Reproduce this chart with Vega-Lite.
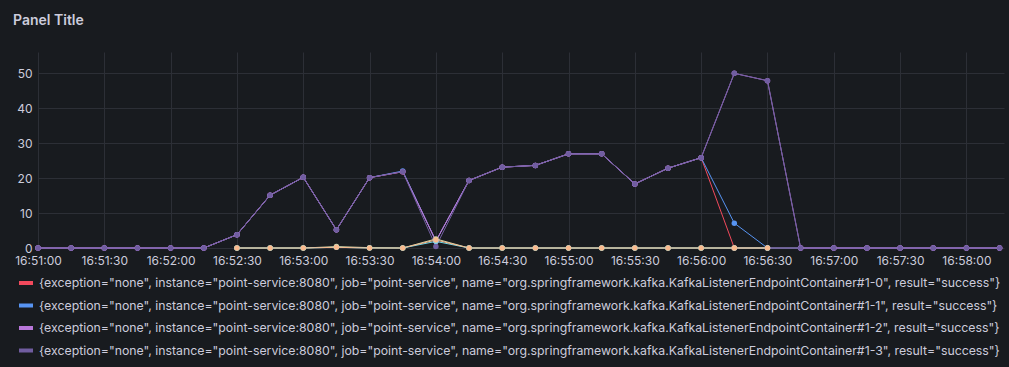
{
  "$schema": "https://vega.github.io/schema/vega-lite/v6.json",
  "width": 966,
  "height": 196,
  "autosize": {"type": "none"},
  "padding": {"left": 38, "top": 52, "right": 5, "bottom": 119},
  "background": "#181B1F",
  "title": {"text": "Panel Title", "anchor": "start", "frame": "group", "dx": -25, "dy": -20, "fontSize": 14, "fontWeight": 600, "color": "#CCCCDC", "font": "Inter"},
  "data": {
    "format": {"parse": {"t": "date:'%H:%M:%S'"}},
    "values": [
      {"s":"#1-0","t":"16:51:00","v":0},{"s":"#1-0","t":"16:51:15","v":0},{"s":"#1-0","t":"16:51:30","v":0},{"s":"#1-0","t":"16:51:45","v":0},{"s":"#1-0","t":"16:52:00","v":0},{"s":"#1-0","t":"16:52:15","v":0},{"s":"#1-0","t":"16:52:30","v":3.8},{"s":"#1-0","t":"16:52:45","v":15.1},{"s":"#1-0","t":"16:53:00","v":20.2},{"s":"#1-0","t":"16:53:15","v":5.2},{"s":"#1-0","t":"16:53:30","v":20.1},{"s":"#1-0","t":"16:53:45","v":21.8},{"s":"#1-0","t":"16:54:00","v":2.0},{"s":"#1-0","t":"16:54:15","v":19.3},{"s":"#1-0","t":"16:54:30","v":23.1},{"s":"#1-0","t":"16:54:45","v":23.6},{"s":"#1-0","t":"16:55:00","v":26.9},{"s":"#1-0","t":"16:55:15","v":26.9},{"s":"#1-0","t":"16:55:30","v":18.3},{"s":"#1-0","t":"16:55:45","v":22.8},{"s":"#1-0","t":"16:56:00","v":25.8},{"s":"#1-0","t":"16:56:15","v":0},{"s":"#1-0","t":"16:56:30","v":0},{"s":"#1-0","t":"16:56:45","v":0},{"s":"#1-0","t":"16:57:00","v":0},{"s":"#1-0","t":"16:57:15","v":0},{"s":"#1-0","t":"16:57:30","v":0},{"s":"#1-0","t":"16:57:45","v":0},{"s":"#1-0","t":"16:58:00","v":0},{"s":"#1-0","t":"16:58:15","v":0},
      {"s":"#1-1","t":"16:51:00","v":0},{"s":"#1-1","t":"16:51:15","v":0},{"s":"#1-1","t":"16:51:30","v":0},{"s":"#1-1","t":"16:51:45","v":0},{"s":"#1-1","t":"16:52:00","v":0},{"s":"#1-1","t":"16:52:15","v":0},{"s":"#1-1","t":"16:52:30","v":3.8},{"s":"#1-1","t":"16:52:45","v":15.1},{"s":"#1-1","t":"16:53:00","v":20.2},{"s":"#1-1","t":"16:53:15","v":5.2},{"s":"#1-1","t":"16:53:30","v":20.1},{"s":"#1-1","t":"16:53:45","v":22.0},{"s":"#1-1","t":"16:54:00","v":2.0},{"s":"#1-1","t":"16:54:15","v":19.3},{"s":"#1-1","t":"16:54:30","v":23.1},{"s":"#1-1","t":"16:54:45","v":23.6},{"s":"#1-1","t":"16:55:00","v":26.9},{"s":"#1-1","t":"16:55:15","v":26.9},{"s":"#1-1","t":"16:55:30","v":18.3},{"s":"#1-1","t":"16:55:45","v":22.8},{"s":"#1-1","t":"16:56:00","v":25.8},{"s":"#1-1","t":"16:56:15","v":7.1},{"s":"#1-1","t":"16:56:30","v":0},{"s":"#1-1","t":"16:56:45","v":0},{"s":"#1-1","t":"16:57:00","v":0},{"s":"#1-1","t":"16:57:15","v":0},{"s":"#1-1","t":"16:57:30","v":0},{"s":"#1-1","t":"16:57:45","v":0},{"s":"#1-1","t":"16:58:00","v":0},{"s":"#1-1","t":"16:58:15","v":0},
      {"s":"#1-2","t":"16:51:00","v":0},{"s":"#1-2","t":"16:51:15","v":0},{"s":"#1-2","t":"16:51:30","v":0},{"s":"#1-2","t":"16:51:45","v":0},{"s":"#1-2","t":"16:52:00","v":0},{"s":"#1-2","t":"16:52:15","v":0},{"s":"#1-2","t":"16:52:30","v":3.8},{"s":"#1-2","t":"16:52:45","v":15.1},{"s":"#1-2","t":"16:53:00","v":20.2},{"s":"#1-2","t":"16:53:15","v":5.2},{"s":"#1-2","t":"16:53:30","v":20.1},{"s":"#1-2","t":"16:53:45","v":21.8},{"s":"#1-2","t":"16:54:00","v":2.0},{"s":"#1-2","t":"16:54:15","v":19.3},{"s":"#1-2","t":"16:54:30","v":23.1},{"s":"#1-2","t":"16:54:45","v":23.6},{"s":"#1-2","t":"16:55:00","v":26.9},{"s":"#1-2","t":"16:55:15","v":26.9},{"s":"#1-2","t":"16:55:30","v":18.3},{"s":"#1-2","t":"16:55:45","v":22.8},{"s":"#1-2","t":"16:56:00","v":25.8},{"s":"#1-2","t":"16:56:15","v":49.9},{"s":"#1-2","t":"16:56:30","v":47.8},{"s":"#1-2","t":"16:56:45","v":0},{"s":"#1-2","t":"16:57:00","v":0},{"s":"#1-2","t":"16:57:15","v":0},{"s":"#1-2","t":"16:57:30","v":0},{"s":"#1-2","t":"16:57:45","v":0},{"s":"#1-2","t":"16:58:00","v":0},{"s":"#1-2","t":"16:58:15","v":0},
      {"s":"#1-3","t":"16:51:00","v":0},{"s":"#1-3","t":"16:51:15","v":0},{"s":"#1-3","t":"16:51:30","v":0},{"s":"#1-3","t":"16:51:45","v":0},{"s":"#1-3","t":"16:52:00","v":0},{"s":"#1-3","t":"16:52:15","v":0},{"s":"#1-3","t":"16:52:30","v":3.8},{"s":"#1-3","t":"16:52:45","v":15.1},{"s":"#1-3","t":"16:53:00","v":20.2},{"s":"#1-3","t":"16:53:15","v":5.2},{"s":"#1-3","t":"16:53:30","v":20.1},{"s":"#1-3","t":"16:53:45","v":21.8},{"s":"#1-3","t":"16:54:00","v":0.4},{"s":"#1-3","t":"16:54:15","v":19.3},{"s":"#1-3","t":"16:54:30","v":23.1},{"s":"#1-3","t":"16:54:45","v":23.6},{"s":"#1-3","t":"16:55:00","v":26.9},{"s":"#1-3","t":"16:55:15","v":26.9},{"s":"#1-3","t":"16:55:30","v":18.3},{"s":"#1-3","t":"16:55:45","v":22.8},{"s":"#1-3","t":"16:56:00","v":25.8},{"s":"#1-3","t":"16:56:15","v":49.9},{"s":"#1-3","t":"16:56:30","v":47.8},{"s":"#1-3","t":"16:56:45","v":0},{"s":"#1-3","t":"16:57:00","v":0},{"s":"#1-3","t":"16:57:15","v":0},{"s":"#1-3","t":"16:57:30","v":0},{"s":"#1-3","t":"16:57:45","v":0},{"s":"#1-3","t":"16:58:00","v":0},{"s":"#1-3","t":"16:58:15","v":0},
      {"s":"other-a","t":"16:52:30","v":0},{"s":"other-a","t":"16:52:45","v":0},{"s":"other-a","t":"16:53:00","v":0},{"s":"other-a","t":"16:53:15","v":0.4},{"s":"other-a","t":"16:53:30","v":0.1},{"s":"other-a","t":"16:53:45","v":0},{"s":"other-a","t":"16:54:00","v":2.6},{"s":"other-a","t":"16:54:15","v":0},{"s":"other-a","t":"16:54:30","v":0},{"s":"other-a","t":"16:54:45","v":0},{"s":"other-a","t":"16:55:00","v":0},{"s":"other-a","t":"16:55:15","v":0},{"s":"other-a","t":"16:55:30","v":0},{"s":"other-a","t":"16:55:45","v":0},{"s":"other-a","t":"16:56:00","v":0},{"s":"other-a","t":"16:56:15","v":0},{"s":"other-a","t":"16:56:30","v":0},
      {"s":"other-b","t":"16:52:30","v":0},{"s":"other-b","t":"16:52:45","v":0},{"s":"other-b","t":"16:53:00","v":0},{"s":"other-b","t":"16:53:15","v":0.2},{"s":"other-b","t":"16:53:30","v":0},{"s":"other-b","t":"16:53:45","v":0},{"s":"other-b","t":"16:54:00","v":1.9},{"s":"other-b","t":"16:54:15","v":0},{"s":"other-b","t":"16:54:30","v":0},{"s":"other-b","t":"16:54:45","v":0},{"s":"other-b","t":"16:55:00","v":0},{"s":"other-b","t":"16:55:15","v":0},{"s":"other-b","t":"16:55:30","v":0},{"s":"other-b","t":"16:55:45","v":0},{"s":"other-b","t":"16:56:00","v":0},{"s":"other-b","t":"16:56:15","v":0},{"s":"other-b","t":"16:56:30","v":0},
      {"s":"other-c","t":"16:52:30","v":0},{"s":"other-c","t":"16:52:45","v":0},{"s":"other-c","t":"16:53:00","v":0},{"s":"other-c","t":"16:53:15","v":0.2},{"s":"other-c","t":"16:53:30","v":0},{"s":"other-c","t":"16:53:45","v":0},{"s":"other-c","t":"16:54:00","v":2.3},{"s":"other-c","t":"16:54:15","v":0},{"s":"other-c","t":"16:54:30","v":0},{"s":"other-c","t":"16:54:45","v":0},{"s":"other-c","t":"16:55:00","v":0},{"s":"other-c","t":"16:55:15","v":0},{"s":"other-c","t":"16:55:30","v":0},{"s":"other-c","t":"16:55:45","v":0},{"s":"other-c","t":"16:56:00","v":0},{"s":"other-c","t":"16:56:15","v":0},{"s":"other-c","t":"16:56:30","v":0}
    ]
  },
  "transform": [
    {"lookup": "s", "from": {"data": {"values": [
      {"s": "#1-0", "name": "{exception=\"none\", instance=\"point-service:8080\", job=\"point-service\", name=\"org.springframework.kafka.KafkaListenerEndpointContainer#1-0\", result=\"success\"}"},
      {"s": "#1-1", "name": "{exception=\"none\", instance=\"point-service:8080\", job=\"point-service\", name=\"org.springframework.kafka.KafkaListenerEndpointContainer#1-1\", result=\"success\"}"},
      {"s": "#1-2", "name": "{exception=\"none\", instance=\"point-service:8080\", job=\"point-service\", name=\"org.springframework.kafka.KafkaListenerEndpointContainer#1-2\", result=\"success\"}"},
      {"s": "#1-3", "name": "{exception=\"none\", instance=\"point-service:8080\", job=\"point-service\", name=\"org.springframework.kafka.KafkaListenerEndpointContainer#1-3\", result=\"success\"}"},
      {"s": "other-a", "name": "other-a"},
      {"s": "other-b", "name": "other-b"},
      {"s": "other-c", "name": "other-c"}
    ]}, "key": "s", "fields": ["name"]}}
  ],
  "encoding": {
    "x": {
      "field": "t", "type": "temporal",
      "scale": {"domain": [{"year": 1900, "month": 1, "date": 1, "hours": 16, "minutes": 51, "seconds": 0}, {"year": 1900, "month": 1, "date": 1, "hours": 16, "minutes": 58, "seconds": 17}], "nice": false},
      "axis": {
        "format": "%H:%M:%S",
        "values": [
          {"year": 1900, "month": 1, "date": 1, "hours": 16, "minutes": 51, "seconds": 0},
          {"year": 1900, "month": 1, "date": 1, "hours": 16, "minutes": 51, "seconds": 30},
          {"year": 1900, "month": 1, "date": 1, "hours": 16, "minutes": 52, "seconds": 0},
          {"year": 1900, "month": 1, "date": 1, "hours": 16, "minutes": 52, "seconds": 30},
          {"year": 1900, "month": 1, "date": 1, "hours": 16, "minutes": 53, "seconds": 0},
          {"year": 1900, "month": 1, "date": 1, "hours": 16, "minutes": 53, "seconds": 30},
          {"year": 1900, "month": 1, "date": 1, "hours": 16, "minutes": 54, "seconds": 0},
          {"year": 1900, "month": 1, "date": 1, "hours": 16, "minutes": 54, "seconds": 30},
          {"year": 1900, "month": 1, "date": 1, "hours": 16, "minutes": 55, "seconds": 0},
          {"year": 1900, "month": 1, "date": 1, "hours": 16, "minutes": 55, "seconds": 30},
          {"year": 1900, "month": 1, "date": 1, "hours": 16, "minutes": 56, "seconds": 0},
          {"year": 1900, "month": 1, "date": 1, "hours": 16, "minutes": 56, "seconds": 30},
          {"year": 1900, "month": 1, "date": 1, "hours": 16, "minutes": 57, "seconds": 0},
          {"year": 1900, "month": 1, "date": 1, "hours": 16, "minutes": 57, "seconds": 30},
          {"year": 1900, "month": 1, "date": 1, "hours": 16, "minutes": 58, "seconds": 0}
        ],
        "labelPadding": 7, "labelFlush": false, "labelOverlap": false, "title": null
      }
    },
    "y": {
      "field": "v", "type": "quantitative",
      "scale": {"domain": [0, 56], "nice": false, "zero": true},
      "axis": {"values": [0, 10, 20, 30, 40, 50], "labelPadding": 6, "title": null}
    },
    "color": {
      "field": "name", "type": "nominal",
      "scale": {
        "domain": [
          "{exception=\"none\", instance=\"point-service:8080\", job=\"point-service\", name=\"org.springframework.kafka.KafkaListenerEndpointContainer#1-0\", result=\"success\"}",
          "{exception=\"none\", instance=\"point-service:8080\", job=\"point-service\", name=\"org.springframework.kafka.KafkaListenerEndpointContainer#1-1\", result=\"success\"}",
          "{exception=\"none\", instance=\"point-service:8080\", job=\"point-service\", name=\"org.springframework.kafka.KafkaListenerEndpointContainer#1-2\", result=\"success\"}",
          "{exception=\"none\", instance=\"point-service:8080\", job=\"point-service\", name=\"org.springframework.kafka.KafkaListenerEndpointContainer#1-3\", result=\"success\"}",
          "other-a", "other-b", "other-c"
        ],
        "range": ["#F2495C", "#5794F2", "#B877D9", "#705DA0", "#D6D9A8", "#70DBED", "#F9BA8F"]
      },
      "legend": {
        "values": [
          "{exception=\"none\", instance=\"point-service:8080\", job=\"point-service\", name=\"org.springframework.kafka.KafkaListenerEndpointContainer#1-0\", result=\"success\"}",
          "{exception=\"none\", instance=\"point-service:8080\", job=\"point-service\", name=\"org.springframework.kafka.KafkaListenerEndpointContainer#1-1\", result=\"success\"}",
          "{exception=\"none\", instance=\"point-service:8080\", job=\"point-service\", name=\"org.springframework.kafka.KafkaListenerEndpointContainer#1-2\", result=\"success\"}",
          "{exception=\"none\", instance=\"point-service:8080\", job=\"point-service\", name=\"org.springframework.kafka.KafkaListenerEndpointContainer#1-3\", result=\"success\"}"
        ],
        "orient": "none", "legendX": -21, "legendY": 222, "direction": "vertical", "title": null,
        "symbolType": "stroke", "symbolSize": 196, "symbolStrokeWidth": 4,
        "labelFont": "Inter", "labelFontSize": 12.3, "labelColor": "#CCCCDC", "labelLimit": 1200, "labelOffset": 4, "rowPadding": 5.5, "padding": 0
      }
    }
  },
  "layer": [
    {"mark": {"type": "line", "strokeWidth": 1, "clip": false}},
    {"mark": {"type": "point", "filled": true, "opacity": 1, "size": 30, "clip": false}}
  ],
  "config": {
    "font": "Inter",
    "view": {"stroke": null},
    "axis": {"domain": false, "ticks": false, "gridColor": "#2C2F36", "gridWidth": 1, "labelColor": "#CCCCDC", "labelFont": "Inter", "labelFontSize": 12}
  }
}
